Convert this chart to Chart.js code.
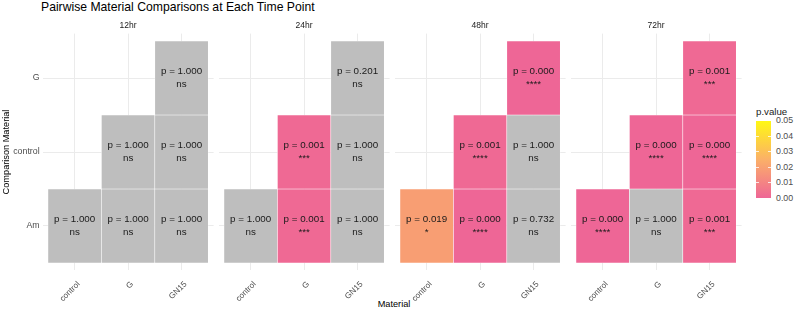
<!DOCTYPE html>
<html>
<head>
<meta charset="utf-8">
<script src="https://cdn.jsdelivr.net/npm/chart.js@4.4.1/dist/chart.umd.min.js"></script>
<style>
  body { margin: 0; background: #fff; font-family: 'Liberation Sans', Arial, sans-serif; }
  #wrap { position: relative; width: 794px; height: 310px; overflow: hidden; }
  #wrap canvas { position: absolute; left: 0; top: 0; }
  .txt { position: absolute; white-space: nowrap; line-height: 1; }
</style>
</head>
<body>
<div id="wrap">
  <div class="txt" id="title" style="left:41px;top:1px;font-size:12.2px;color:#000;">Pairwise Material Comparisons at Each Time Point</div>
  <div class="txt" id="xtitle" style="left:394px;top:299.5px;font-size:9.2px;color:#000;transform:translateX(-50%);">Material</div>
  <div id="legend"></div>
  <canvas id="p0" width="794" height="310"></canvas>
  <canvas id="p1" width="794" height="310"></canvas>
  <canvas id="p2" width="794" height="310"></canvas>
  <canvas id="p3" width="794" height="310"></canvas>
</div>
<script>
// facets, axes
const times = ['12hr', '24hr', '48hr', '72hr'];
const materials = ['control', 'G', 'GN15'];
const comparisons = ['Am', 'control', 'G'];

// cells drawn in every panel (material x comparison)
const cellMaterial = ['control', 'G', 'GN15', 'G', 'GN15', 'GN15'];
const cellComparison = ['Am', 'Am', 'Am', 'control', 'control', 'G'];

// p values per panel, same order as the cells
const p12 = [1.000, 1.000, 1.000, 1.000, 1.000, 1.000];
const p24 = [1.000, 0.001, 1.000, 0.001, 1.000, 0.201];
const p48 = [0.019, 0.000, 0.732, 0.001, 1.000, 0.000];
const p72 = [0.000, 1.000, 0.001, 0.000, 0.000, 0.001];

// significance labels
const sig12 = ['ns', 'ns', 'ns', 'ns', 'ns', 'ns'];
const sig24 = ['ns', '***', 'ns', '***', 'ns', 'ns'];
const sig48 = ['*', '****', 'ns', '****', 'ns', '****'];
const sig72 = ['****', 'ns', '***', '****', '****', '***'];

// colour bar ticks
const legendTicks = [0.05, 0.04, 0.03, 0.02, 0.01, 0.00];

const pvals = [p12, p24, p48, p72];
const sigs = [sig12, sig24, sig48, sig72];

const FONT = "'Liberation Sans', Arial, sans-serif";
const W = 794, H = 310;
const panelLeft = [42.6, 218.6, 394.6, 570.6];
const panelW = 171;
const panelTop = 33.6, panelBottom = 270.4;

// pink -> orange -> yellow, grey when not significant
function pColor(p) {
  if (p > 0.05) return '#BEBEBE';
  const stops = [[0, [238, 102, 150]], [0.025, [251, 176, 104]], [0.05, [255, 248, 20]]];
  let i = p <= 0.025 ? 0 : 1;
  const a = stops[i], b = stops[i + 1];
  const t = (p - a[0]) / (b[0] - a[0]);
  const c = a[1].map((v, j) => Math.round(v + (b[1][j] - v) * t));
  return 'rgb(' + c.join(',') + ')';
}

times.forEach((t, k) => {
  const pv = pvals[k], sg = sigs[k];

  const cellText = {
    id: 'cellText',
    afterDatasetsDraw(chart) {
      const ctx = chart.ctx, x = chart.scales.x, y = chart.scales.y;
      ctx.save();
      ctx.fillStyle = '#1A1A1A';
      ctx.textAlign = 'center';
      ctx.textBaseline = 'middle';
      ctx.font = '9.8px ' + FONT;
      cellMaterial.forEach((m, i) => {
        const cx = x.getPixelForValue(materials.indexOf(m));
        const cy = y.getPixelForValue(comparisons.indexOf(cellComparison[i]));
        ctx.fillText('p = ' + pv[i].toFixed(3), cx, cy - 6.3);
        ctx.fillText(sg[i], cx, cy + 6.3);
      });
      ctx.restore();
    }
  };

  new Chart(document.getElementById('p' + k), {
    type: 'bar',
    data: {
      datasets: [{
        data: cellMaterial.map((m, i) => {
          const r = comparisons.indexOf(cellComparison[i]);
          return { x: materials.indexOf(m), y: [r - 0.5, r + 0.5] };
        }),
        backgroundColor: pv.map(pColor),
        borderColor: 'rgba(255,255,255,0.7)',
        borderWidth: 0.6,
        borderSkipped: false,
        barPercentage: 1,
        categoryPercentage: 1
      }]
    },
    options: {
      responsive: false,
      animation: false,
      events: [],
      layout: {
        padding: { left: k === 0 ? 0 : panelLeft[k], right: W - panelLeft[k] - panelW, top: 0, bottom: 0 }
      },
      plugins: {
        legend: { display: false },
        tooltip: { enabled: false },
        title: {
          display: true, text: t, fullSize: false, color: '#1A1A1A',
          font: { size: 8.5, family: FONT, weight: 'normal' },
          padding: { top: 20.6, bottom: 2.8 }
        }
      },
      scales: {
        x: {
          type: 'linear', min: -0.6, max: 2.6, offset: false,
          afterBuildTicks: s => { s.ticks = materials.map((m, i) => ({ value: i })); },
          afterFit: s => { s.height = H - panelBottom; },
          grid: { color: '#EBEBEB', drawTicks: false, offset: false },
          border: { display: false },
          ticks: {
            autoSkip: false, minRotation: 45, maxRotation: 45, padding: 9, labelOffset: 4,
            color: '#4D4D4D', font: { size: 8.2, family: FONT },
            callback: v => materials[v]
          }
        },
        y: {
          type: 'linear', min: -0.6, max: 2.6,
          afterBuildTicks: s => { s.ticks = comparisons.map((c, i) => ({ value: i })); },
          afterFit: s => { s.width = k === 0 ? panelLeft[0] : 0; },
          grid: { color: '#EBEBEB', drawTicks: false },
          border: { display: false },
          title: {
            display: k === 0, text: 'Comparison Material', color: '#000',
            font: { size: 9.2, family: FONT }, padding: { top: 1, bottom: 0 }
          },
          ticks: {
            display: k === 0, padding: 3,
            color: '#4D4D4D', font: { size: 8.8, family: FONT },
            callback: v => comparisons[v]
          }
        }
      }
    },
    plugins: [cellText]
  });
});

// colour bar legend
(function () {
  const lg = document.getElementById('legend');
  const barL = 756, barW = 15, barT = 120.7, barB = 198.3;
  let html = '<div class="txt" style="left:756px;top:107px;font-size:9.7px;color:#1A1A1A;">p.value</div>';
  const grad = [0, 0.0125, 0.025, 0.0375, 0.05].map(v => pColor(v) + ' ' + (v / 0.05 * 100) + '%').join(',');
  html += '<div style="position:absolute;left:' + barL + 'px;top:' + barT + 'px;width:' + barW + 'px;height:' + (barB - barT) + 'px;background:linear-gradient(to top,' + grad + ');"></div>';
  legendTicks.forEach(v => {
    const y = barB - (v / 0.05) * (barB - barT);
    html += '<div style="position:absolute;left:' + barL + 'px;top:' + (y - 0.5) + 'px;width:3px;height:1px;background:rgba(255,255,255,0.8);"></div>';
    html += '<div style="position:absolute;left:' + (barL + barW - 3) + 'px;top:' + (y - 0.5) + 'px;width:3px;height:1px;background:rgba(255,255,255,0.8);"></div>';
    html += '<div class="txt" style="left:776px;top:' + (y - 4.4) + 'px;font-size:8.8px;color:#4D4D4D;">' + v.toFixed(2) + '</div>';
  });
  lg.innerHTML = html;
})();
</script>
</body>
</html>
